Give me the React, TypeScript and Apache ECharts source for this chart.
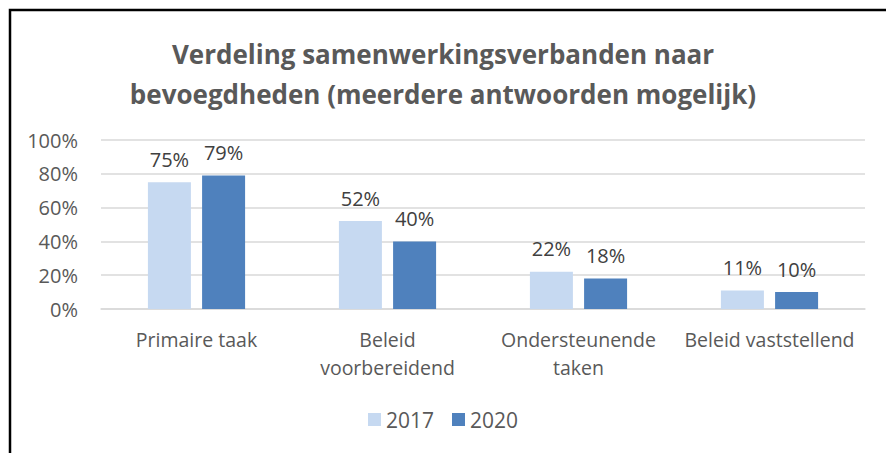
import React, { useEffect, useRef } from "react";
import * as echarts from "echarts";

const categories = ["Primaire taak", "Beleid\nvoorbereidend", "Ondersteunende\ntaken", "Beleid vaststellend"];
const series2017 = [75, 52, 22, 11];
const series2020 = [79, 40, 18, 10];
const yTicks = [0, 20, 40, 60, 80, 100];
const titleText = "Verdeling samenwerkingsverbanden naar\nbevoegdheden (meerdere antwoorden mogelijk)";

const FONT = "Open Sans";

export default function App() {
  const ref = useRef<HTMLDivElement>(null);
  useEffect(() => {
    const chart = echarts.init(ref.current!, null, { renderer: "svg" });
    const labelStyle = {
      show: true,
      position: "top" as const,
      distance: 13,
      formatter: (p: any) => p.value + "%",
      color: "#404040",
      fontSize: 20,
      fontFamily: FONT,
    };
    chart.setOption({
      animation: false,
      backgroundColor: "#ffffff",
      title: {
        text: titleText,
        left: "center",
        top: 29,
        textStyle: {
          fontFamily: FONT,
          fontWeight: "bold",
          fontSize: 26,
          color: "#595959",
          lineHeight: 40,
        },
      },
      graphic: [
        {
          type: "rect",
          shape: { x: 10, y: 10, width: 1000, height: 1000 },
          style: { fill: "none", stroke: "#000000", lineWidth: 2.5 },
          silent: true,
        },
      ],
      legend: {
        bottom: 18,
        left: "center",
        itemWidth: 13,
        itemHeight: 13,
        itemGap: 18,
        icon: "rect",
        textStyle: { fontFamily: FONT, fontSize: 21, color: "#595959" },
        data: ["2017", "2020"],
      },
      grid: { left: 101, right: 21, top: 140, bottom: 144, containLabel: false },
      xAxis: {
        type: "category",
        data: categories,
        axisLine: { lineStyle: { color: "#D9D9D9", width: 1.5 } },
        axisTick: { show: false },
        axisLabel: {
          fontFamily: FONT,
          fontSize: 19.5,
          color: "#595959",
          margin: 16,
          lineHeight: 28,
          interval: 0,
        },
      },
      yAxis: {
        type: "value",
        min: yTicks[0],
        max: yTicks[yTicks.length - 1],
        interval: 20,
        axisLabel: {
          formatter: "{value}%",
          fontFamily: FONT,
          fontSize: 20,
          color: "#595959",
          margin: 23,
        },
        splitLine: { lineStyle: { color: "#D9D9D9", width: 1.5 } },
        axisLine: { show: false },
        axisTick: { show: false },
      },
      series: [
        {
          name: "2017",
          type: "bar",
          data: series2017,
          barWidth: 43,
          barGap: "26%",
          itemStyle: { color: "#C6D9F1" },
          label: labelStyle,
        },
        {
          name: "2020",
          type: "bar",
          data: series2020,
          barWidth: 43,
          barGap: "26%",
          itemStyle: { color: "#4F81BD" },
          label: labelStyle,
        },
      ],
    });
    return () => chart.dispose();
  }, []);
  return (
    <div
      ref={ref}
      style={{ position: "fixed", left: 0, top: 0, width: 886, height: 453 }}
    />
  );
}
